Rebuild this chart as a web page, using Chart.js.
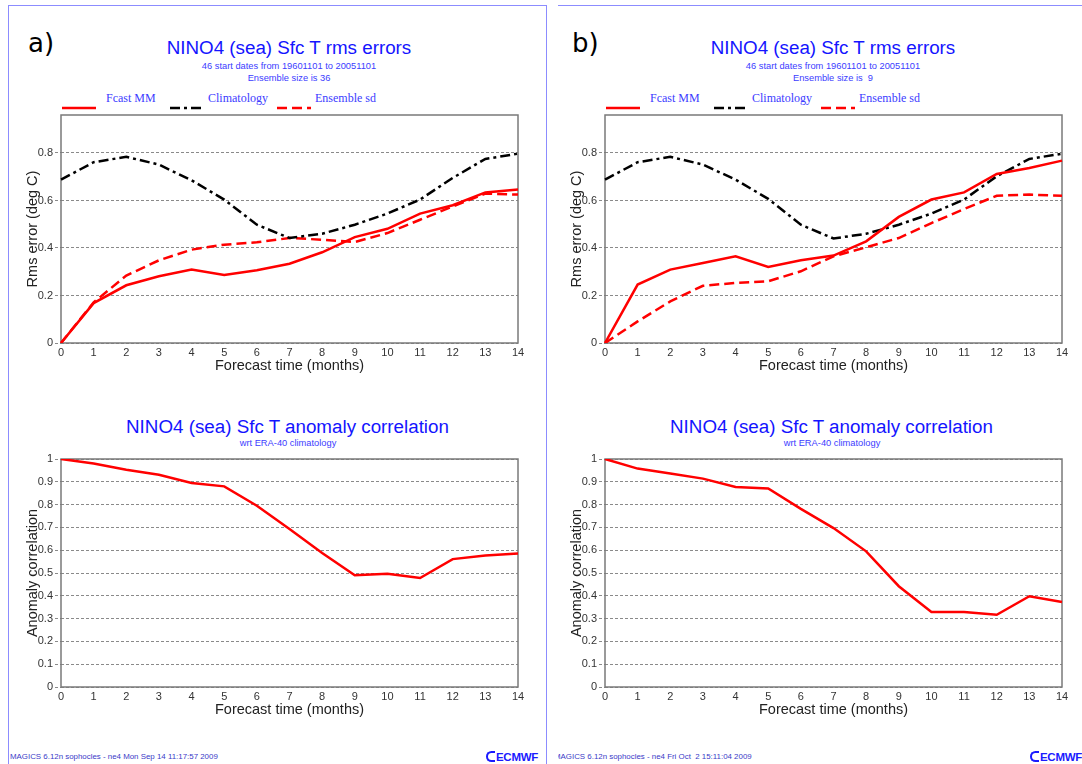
<!DOCTYPE html>
<html>
<head>
<meta charset="utf-8">
<script src="https://cdn.jsdelivr.net/npm/chart.js@4.4.1/dist/chart.umd.min.js"></script>
<style>
html,body{margin:0;padding:0;background:#fff;width:1082px;height:764px;overflow:hidden;position:relative;font-family:"Liberation Sans",Arial,Helvetica,sans-serif;}
.panel{position:absolute;top:0;height:764px;overflow:hidden;}
.inner{position:absolute;top:0;width:560px;height:764px;}
.frame{position:absolute;left:8px;top:5px;width:538.5px;height:900px;box-sizing:border-box;border:1.5px solid #8c8cff;}
.lbl{position:absolute;left:28px;top:30px;font-family:"DejaVu Sans",sans-serif;font-size:26px;line-height:1;color:#000;}
.ctr{position:absolute;width:600px;text-align:center;line-height:1;white-space:pre;}
.t1{font-size:18.8px;color:#1414ff;}
.t2{font-size:9.3px;color:#3c3cff;}
.leg{position:absolute;font-family:"Liberation Serif","Times New Roman",serif;font-size:12px;line-height:1;color:#3c3cff;white-space:pre;top:91.5px;}
.legs{position:absolute;top:95.7px;}
.foot{position:absolute;left:10px;top:753px;font-size:7.9px;line-height:1;color:#3a3ac8;white-space:pre;}
.logo{position:absolute;left:486px;top:751px;font-size:11.5px;font-weight:bold;line-height:1;color:#1a1aff;letter-spacing:-0.3px;}
.logo i{display:inline-block;width:7px;height:7px;border:2.5px solid #1a1aff;border-right:none;border-radius:6px 0 0 6px;margin-right:1px;vertical-align:-1px;}
canvas{position:absolute;}
</style>
</head>
<body>
<div class="panel" id="panelA" style="left:0;width:558px;"><div class="inner" id="innerA" style="left:0;"></div></div>
<div class="panel" id="panelB" style="left:558px;width:524px;"><div class="inner" id="innerB" style="left:-14px;"></div></div>
<script>
// ---- data ----
const months = ["0","1","2","3","4","5","6","7","8","9","10","11","12","13","14"];
const rmsTicks = [0, 0.2, 0.4, 0.6, 0.8];
const accTicks = [0, 0.1, 0.2, 0.3, 0.4, 0.5, 0.6, 0.7, 0.8, 0.9, 1];
const seriesNames = ["Fcast MM", "Climatology", "Ensemble sd"];

const aFcastRms = [0, 0.168, 0.243, 0.281, 0.309, 0.286, 0.306, 0.334, 0.382, 0.446, 0.481, 0.545, 0.580, 0.634, 0.646];
const aClimRms  = [0.688, 0.761, 0.784, 0.751, 0.685, 0.604, 0.498, 0.442, 0.460, 0.498, 0.545, 0.604, 0.695, 0.775, 0.797];
const aSdRms    = [0, 0.171, 0.284, 0.348, 0.393, 0.414, 0.424, 0.442, 0.435, 0.425, 0.463, 0.519, 0.575, 0.629, 0.625];
const aAcc      = [1.0, 0.980, 0.953, 0.931, 0.895, 0.880, 0.795, 0.693, 0.588, 0.490, 0.497, 0.478, 0.561, 0.577, 0.585];

const bFcastRms = [0, 0.246, 0.309, 0.337, 0.365, 0.320, 0.348, 0.368, 0.428, 0.531, 0.604, 0.634, 0.712, 0.737, 0.768];
const bClimRms  = [0.688, 0.761, 0.784, 0.751, 0.688, 0.607, 0.498, 0.440, 0.460, 0.498, 0.545, 0.604, 0.702, 0.775, 0.797];
const bSdRms    = [0, 0.091, 0.175, 0.241, 0.253, 0.260, 0.302, 0.365, 0.403, 0.442, 0.505, 0.564, 0.620, 0.625, 0.620];
const bAcc      = [1.0, 0.958, 0.936, 0.914, 0.877, 0.871, 0.781, 0.697, 0.595, 0.442, 0.329, 0.329, 0.317, 0.398, 0.373];

// ---- styles ----
const FONT = '"Liberation Sans", Arial, Helvetica, sans-serif';
const RED = '#ff0000', BLACK = '#000000';
const DASH_CLIM = [10, 4, 3, 4], DASH_SD = [10, 5];

Chart.defaults.font.family = FONT;

const framePlugin = {
  id: 'frame',
  beforeDatasetsDraw(chart) {
    const {ctx, chartArea: a} = chart;
    ctx.save();
    ctx.strokeStyle = '#7a7a7a';
    ctx.lineWidth = 1.5;
    ctx.setLineDash([]);
    ctx.strokeRect(a.left, a.top, a.right - a.left, a.bottom - a.top);
    ctx.restore();
  }
};

function lineDs(label, data, color, dash) {
  return {label, data, borderColor: color, backgroundColor: color, borderWidth: 2.5,
          borderDash: dash, pointRadius: 0, pointHoverRadius: 0, tension: 0, fill: false};
}

function makeChart(canvas, datasets, yMax, yTicks, yTitle, padTop, padBottom) {
  return new Chart(canvas, {
    type: 'line',
    data: {labels: months, datasets},
    options: {
      responsive: false, animation: false, devicePixelRatio: 1,
      layout: {padding: {top: padTop, bottom: padBottom, left: 0, right: 30}},
      plugins: {legend: {display: false}, tooltip: {enabled: false}, title: {display: false}},
      scales: {
        x: {
          type: 'category', offset: false,
          grid: {display: false, drawTicks: false},
          border: {display: false},
          ticks: {color: '#333', font: {size: 11}, padding: 3, maxRotation: 0, autoSkip: false},
          afterFit: s => { s.height = 32; },
          title: {display: true, text: 'Forecast time (months)', color: '#222', font: {size: 14.5}, padding: 0}
        },
        y: {
          type: 'linear', min: 0, max: yMax,
          afterBuildTicks: s => { s.ticks = yTicks.map(v => ({value: v})); },
          afterFit: s => { s.width = 53; },
          ticks: {color: '#333', font: {size: 11}, padding: 2, autoSkip: false, callback: v => String(v)},
          grid: {color: '#8a8a8a', lineWidth: 1, drawTicks: true, tickLength: 6, tickColor: '#8a8a8a', tickBorderDash: [3, 2]},
          border: {display: false, dash: [3, 2]},
          title: {display: true, text: yTitle, color: '#222', font: {size: 14.5}, padding: {top: 16, bottom: 0}}
        }
      }
    },
    plugins: [framePlugin]
  });
}

function legendSample(dash, color) {
  const d = dash.length ? ` stroke-dasharray="${dash.join(',')}"` : '';
  return `<svg width="34" height="4" viewBox="0 0 34 4"><line x1="0" y1="2" x2="34" y2="2" stroke="${color}" stroke-width="2.5"${d}/></svg>`;
}

function buildPanel(inner, letter, ensSize, footer, rms, acc) {
  const legX = [[62, 106], [170, 208], [277, 315]];
  const legStyle = [[[], RED], [DASH_CLIM, BLACK], [DASH_SD, RED]];
  let html = `<div class="frame"></div>
  <div class="lbl">${letter})</div>
  <div class="ctr t1" style="left:-11px;top:39px;">NINO4 (sea) Sfc T rms errors</div>
  <div class="ctr t2" style="left:-11px;top:62px;">46 start dates from 19601101 to 20051101</div>
  <div class="ctr t2" style="left:-11px;top:74px;">Ensemble size is ${ensSize}</div>
  <div class="ctr t1" style="left:-12.5px;top:418px;">NINO4 (sea) Sfc T anomaly correlation</div>
  <div class="ctr t2" style="left:-12px;top:438.6px;">wrt ERA-40 climatology</div>
  <div class="foot">${footer}</div>
  <div class="logo"><i></i>ECMWF</div>`;
  seriesNames.forEach((n, i) => {
    html += `<div class="legs" style="left:${legX[i][0]}px;">${legendSample(legStyle[i][0], legStyle[i][1])}</div>`;
    html += `<div class="leg" style="left:${legX[i][1]}px;">${n}</div>`;
  });
  html += `<canvas id="top${letter}" width="540" height="280" style="left:8px;top:100px;"></canvas>`;
  html += `<canvas id="bot${letter}" width="540" height="285" style="left:8px;top:440px;"></canvas>`;
  inner.innerHTML = html;

  makeChart(document.getElementById('top' + letter), [
    lineDs(seriesNames[0], rms[0], RED, []),
    lineDs(seriesNames[1], rms[1], BLACK, DASH_CLIM),
    lineDs(seriesNames[2], rms[2], RED, DASH_SD)
  ], 0.96, rmsTicks, 'Rms error (deg C)', 15, 5);

  makeChart(document.getElementById('bot' + letter), [
    lineDs('Anomaly correlation', acc, RED, [])
  ], 1, accTicks, 'Anomaly correlation', 19, 6);
}

buildPanel(document.getElementById('innerA'), 'a', '36',
  'MAGICS 6.12n sophocles - ne4 Mon Sep 14 11:17:57 2009',
  [aFcastRms, aClimRms, aSdRms], aAcc);
buildPanel(document.getElementById('innerB'), 'b', ' 9',
  'MAGICS 6.12n sophocles - ne4 Fri Oct  2 15:11:04 2009',
  [bFcastRms, bClimRms, bSdRms], bAcc);
</script>
</body>
</html>
